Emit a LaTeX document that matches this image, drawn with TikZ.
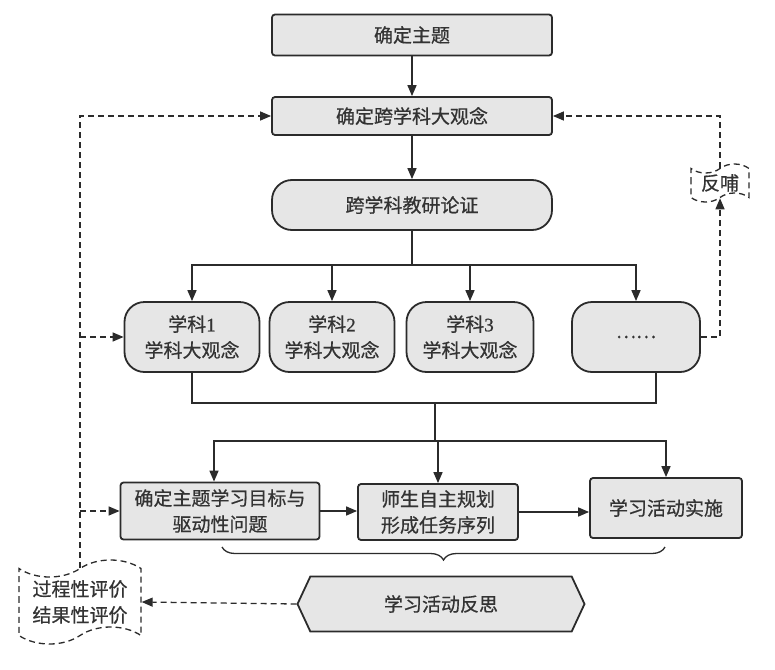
\documentclass[tikz,border=0pt]{standalone}
\usepackage{fontspec}
\setmainfont{Noto Sans CJK SC}[FakeBold=0.6]
\newfontfamily\numfont{Liberation Serif}[FakeBold=0.8]
\usetikzlibrary{arrows.meta,shapes.symbols,decorations.pathreplacing}
\definecolor{boxfill}{HTML}{E6E6E6}
\definecolor{ink}{HTML}{2B2B2B}
\definecolor{txt}{HTML}{333333}
\begin{document}
\begin{tikzpicture}[x=1pt,y=-1pt,
  every node/.style={font=\fontsize{19}{26}\selectfont, text=txt, align=center, inner sep=0pt},
  box/.style={draw=ink, line width=1.8pt, fill=boxfill, rounded corners=3pt},
  pill/.style={draw=ink, line width=1.8pt, fill=boxfill, rounded corners=20pt},
  conn/.style={draw=ink, line width=1.6pt},
  arr/.style={conn, -{Triangle[length=11pt,width=9pt]}},
  dline/.style={draw=ink, line width=1.3pt, dash pattern=on 6pt off 4pt, -{Triangle[length=11pt,width=9pt]}},
  wave/.style={tape, draw=ink, line width=1.3pt, dash pattern=on 6pt off 4pt, fill=white},
]
\useasboundingbox (0,0) rectangle (775,669);

\node[box, minimum width=280, minimum height=41] (t1) at (412,35) {确定主题};
\node[box, minimum width=280, minimum height=38] (t2) at (412,116) {确定跨学科大观念};
\node[pill, minimum width=280, minimum height=50] (t3) at (412,205) {跨学科教研论证};

\node[pill, minimum width=135, minimum height=70] (s1) at (192,337) {学科{\numfont 1}\\学科大观念};
\node[pill, minimum width=125, minimum height=70] (s2) at (332,337) {学科{\numfont 2}\\学科大观念};
\node[pill, minimum width=127, minimum height=70] (s3) at (470,337) {学科{\numfont 3}\\学科大观念};
\node[pill, minimum width=128, minimum height=70] (s4) at (636,337) {……};

\node[box, minimum width=199, minimum height=57] (r1) at (220,511) {确定主题学习目标与\\驱动性问题};
\node[box, minimum width=160, minimum height=56] (r2) at (438,512) {师生自主规划\\形成任务序列};
\node[box, minimum width=152, minimum height=60] (r3) at (666,508) {学习活动实施};

\node[signal, signal to=west and east, signal pointer angle=130, draw=ink, line width=1.8pt, fill=boxfill, minimum width=287, minimum height=55] (h) at (441,604) {学习活动反思};

\node[wave, tape bend height=17pt, minimum width=122, minimum height=84] (ev) at (80,602) {过程性评价\\结果性评价};
\node[wave, tape bend height=9pt, minimum width=58, minimum height=38] (fb) at (720,183) {反哺};

% main flow
\draw[arr] (t1) -- (t2);
\draw[arr] (t2) -- (t3);
\coordinate (b1) at (412,265);
\draw[conn] (t3.south) -- (b1);
\draw[arr] (b1) -| (s1);
\draw[arr] (b1) -| (s2);
\draw[arr] (b1) -| (s3);
\draw[arr] (b1) -| (s4);

\coordinate (m1) at (435,403);
\coordinate (m2) at (435,441);
\draw[conn] (s1.south) |- (m1);
\draw[conn] ([xshift=20pt]s4.south) |- (m1);
\draw[conn] (m1) -- (m2);
\draw[arr] (m2) -| ([xshift=-6pt]r1.north);
\draw[arr] (m2) -| (r2);
\draw[arr] (m2) -| (r3);

\draw[arr] (r1) -- (r1 -| r2.west);
\draw[arr] (r2.east) -- (r2.east -| r3.west);

% brace
\coordinate (br1) at (222,547);
\coordinate (br2) at (665,547);
\draw[draw=ink, line width=1.3pt, decorate, decoration={brace, mirror, amplitude=13pt}] (br1) -- (br2);

% feedback dashed
\draw[dline] (ev.north) |- (t2.west);
\coordinate (l1) at (ev.north |- s1.west);
\coordinate (l2) at (ev.north |- r1.west);
\draw[dline] (l1) -- (s1.west);
\draw[dline] (l2) -- (r1.west);
\draw[dline] (s4.east) -| (fb.south);
\draw[dline] (fb.north) |- (t2.east);
\draw[dline] (h.west) -- (ev.east);
\end{tikzpicture}
\end{document}
